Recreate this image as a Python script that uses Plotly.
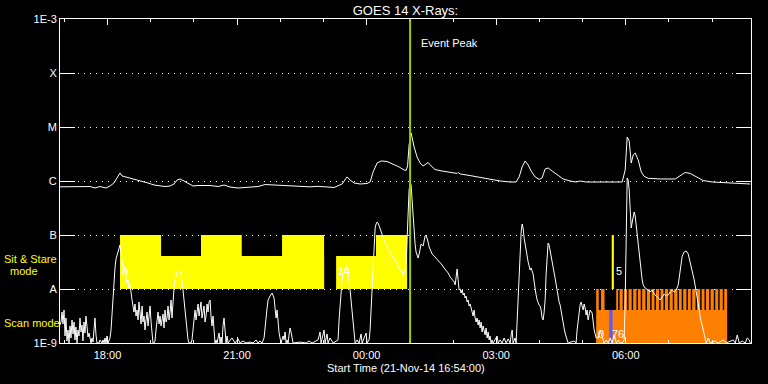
import numpy as np
import pandas as pd
import plotly.graph_objects as go

START = pd.Timestamp("2014-11-21 16:54:00")
END = pd.Timestamp("2014-11-22 08:54:00")

# ---- GOES 14 long channel (1-8 A), minutes after start / flux W m^-2 ----
long_min = [
    0.0, 20.8, 41.7, 48.6, 55.6, 63.9, 69.5, 75.0, 80.6, 83.4,
    86.2, 91.7, 100.1, 111.2, 122.3, 130.6, 139.0, 145.9, 152.9, 158.4,
    162.6, 166.8, 172.3, 177.9, 184.8, 191.8, 208.5, 219.6, 227.9, 236.2,
    247.4, 257.1, 264.0, 275.2, 284.9, 294.6, 305.7, 319.6, 333.5, 347.4,
    358.5, 369.7, 380.8, 391.9, 398.8, 403.0, 408.6, 416.9, 426.6, 430.8,
    435.0, 440.5, 446.1, 454.4, 462.8, 471.1, 478.1, 480.8, 482.9, 485.0,
    487.8, 489.2, 492.0, 496.1, 500.3, 504.5, 508.6, 511.4, 515.6, 521.1,
    530.9, 542.0, 551.7, 553.1, 555.9, 569.8, 583.7, 597.6, 611.5, 625.4,
    633.7, 637.9, 642.0, 646.2, 650.4, 654.5, 660.1, 665.7, 669.8, 674.0,
    678.2, 683.7, 690.7, 699.0, 708.7, 717.1, 722.6, 731.0, 781.0, 785.2,
    788.0, 790.8, 793.6, 796.3, 799.1, 803.3, 807.5, 811.6, 817.2, 833.9,
    854.7, 861.6, 868.6, 875.5, 883.9, 893.6, 906.1, 917.2, 931.1, 945.0,
    959.0,
]
long_flux = [
    7.8e-7, 7.74e-7, 7.9e-7, 7.42e-7, 7.9e-7, 7.42e-7, 8.08e-7, 9.18e-7, 1.19e-6, 1.41e-6,
    1.24e-6, 1.19e-6, 1.09e-6, 1.0e-6, 9.18e-7, 8.43e-7, 8.08e-7, 7.9e-7, 8.08e-7, 8.8e-7,
    1.04e-6, 1.09e-6, 1.0e-6, 9.18e-7, 8.08e-7, 8.25e-7, 8.25e-7, 7.9e-7, 8.43e-7, 7.74e-7,
    7.42e-7, 7.58e-7, 7.65e-7, 7.9e-7, 8.6e-7, 8.43e-7, 8.25e-7, 8.08e-7, 7.9e-7, 7.8e-7,
    7.97e-7, 7.74e-7, 7.58e-7, 8.8e-7, 1.19e-6, 1.04e-6, 9.18e-7, 8.8e-7, 9.0e-7, 9.58e-7,
    1.47e-6, 2.15e-6, 2.35e-6, 2.3e-6, 2.07e-6, 1.82e-6, 1.6e-6, 1.57e-6, 1.9e-6, 4.64e-6,
    7.74e-6, 6.26e-6, 4.26e-6, 2.78e-6, 2.15e-6, 1.9e-6, 2.07e-6, 2.2e-6, 1.9e-6, 1.63e-6,
    1.53e-6, 1.44e-6, 1.38e-6, 1.44e-6, 1.35e-6, 1.26e-6, 1.16e-6, 1.07e-6, 1.0e-6, 9.58e-7,
    9.58e-7, 1.19e-6, 1.82e-6, 2.35e-6, 1.98e-6, 1.53e-6, 1.19e-6, 1.07e-6, 1.14e-6, 1.67e-6,
    1.74e-6, 1.53e-6, 1.29e-6, 1.09e-6, 1.0e-6, 9.58e-7, 1.0e-6, 9.58e-7, 9.58e-7, 1.6e-6,
    6.53e-6, 5.5e-6, 2.15e-6, 3.03e-6, 3.3e-6, 2.45e-6, 1.47e-6, 1.22e-6, 1.12e-6, 1.09e-6,
    1.09e-6, 1.24e-6, 1.44e-6, 1.38e-6, 1.19e-6, 1.02e-6, 9.58e-7, 9.4e-7, 9.18e-7, 9.0e-7,
    8.8e-7,
]

# ---- GOES 14 short channel (0.5-4 A) ----
short_min = [
    0.0, 1.4, 2.8, 4.2, 5.6, 7.0, 8.3, 9.7, 11.1, 12.5,
    13.9, 15.3, 16.7, 18.1, 19.5, 20.8, 22.2, 23.6, 25.0, 26.4,
    27.8, 29.2, 30.6, 31.9, 33.3, 34.7, 36.1, 37.5, 38.9, 40.3,
    41.7, 43.1, 44.5, 45.9, 47.2, 48.6, 50.0, 51.4, 54.2, 55.6,
    58.4, 59.8, 61.2, 62.5, 63.9, 65.3, 66.7, 68.1, 69.5, 70.9,
    72.3, 73.7, 75.0, 76.4, 77.8, 79.2, 80.6, 82.0, 83.4, 84.8,
    86.2, 87.6, 88.9, 90.3, 91.7, 93.1, 94.5, 95.9, 97.3, 98.7,
    100.1, 101.4, 102.8, 104.2, 105.6, 107.0, 108.4, 109.8, 111.2, 112.6,
    114.0, 115.3, 116.7, 118.1, 119.5, 120.9, 122.3, 123.7, 125.1, 126.5,
    127.9, 129.2, 130.6, 132.0, 133.4, 134.8, 136.2, 137.6, 139.0, 140.4,
    141.8, 143.1, 144.5, 145.9, 147.3, 148.7, 150.1, 151.5, 152.9, 154.3,
    155.6, 157.0, 158.4, 159.8, 161.2, 162.6, 165.4, 166.8, 168.2, 169.5,
    170.9, 172.3, 173.7, 175.1, 176.5, 177.9, 179.3, 182.1, 183.4, 184.8,
    186.2, 187.6, 189.0, 190.4, 191.8, 193.2, 194.6, 195.9, 197.3, 198.7,
    200.1, 201.5, 202.9, 204.3, 205.7, 207.1, 208.5, 209.8, 211.2, 212.6,
    214.0, 215.4, 216.8, 218.2, 221.0, 222.4, 223.7, 225.1, 226.5, 227.9,
    229.3, 230.7, 232.1, 233.5, 239.0, 243.2, 247.4, 250.1, 254.3, 258.5,
    264.0, 268.2, 272.4, 275.2, 277.9, 280.7, 283.5, 284.9, 286.3, 287.7,
    289.1, 291.8, 294.6, 297.4, 298.8, 300.2, 301.6, 303.0, 304.4, 305.7,
    307.1, 309.9, 311.3, 312.7, 314.1, 315.5, 316.9, 318.2, 319.6, 321.0,
    322.4, 323.8, 333.5, 341.9, 346.0, 350.2, 358.5, 361.3, 362.7, 365.5,
    366.9, 368.3, 371.0, 372.4, 375.2, 379.4, 386.3, 387.7, 389.1, 390.5,
    391.9, 393.3, 394.7, 396.1, 397.5, 398.8, 400.2, 401.6, 403.0, 404.4,
    405.8, 407.2, 408.6, 410.0, 412.7, 415.5, 418.3, 419.7, 422.5, 425.3,
    426.6, 429.4, 430.8, 432.2, 433.6, 435.0, 436.4, 437.8, 439.2, 440.5,
    441.9, 443.3, 444.7, 447.5, 450.3, 453.1, 455.8, 458.6, 461.4, 464.2,
    467.0, 469.7, 472.5, 475.3, 476.7, 478.1, 479.5, 480.9, 482.3, 483.6,
    485.0, 486.4, 487.8, 489.2, 490.6, 492.0, 493.4, 494.7, 496.1, 497.5,
    498.9, 500.3, 501.7, 504.5, 505.9, 507.2, 508.6, 510.0, 511.4, 512.8,
    514.2, 517.0, 519.8, 522.5, 525.3, 528.1, 530.9, 533.7, 536.4, 539.2,
    542.0, 544.8, 547.6, 549.0, 550.4, 551.7, 553.1, 554.5, 555.9, 557.3,
    558.7, 560.1, 561.5, 562.8, 564.2, 565.6, 567.0, 568.4, 569.8, 571.2,
    572.6, 573.9, 575.3, 576.7, 578.1, 579.5, 580.9, 582.3, 583.7, 585.1,
    586.4, 587.8, 589.2, 590.6, 592.0, 593.4, 594.8, 596.2, 597.5, 598.9,
    600.3, 601.7, 607.3, 608.7, 611.5, 614.2, 617.0, 619.8, 622.6, 625.4,
    626.8, 628.2, 629.5, 632.3, 633.7, 635.1, 636.5, 637.9, 639.3, 640.7,
    642.0, 643.4, 644.8, 646.2, 647.6, 649.0, 650.4, 651.8, 653.1, 654.5,
    655.9, 657.3, 658.7, 660.1, 661.5, 662.9, 664.2, 665.6, 667.0, 668.4,
    669.8, 671.2, 672.6, 674.0, 675.3, 676.7, 678.1, 679.5, 680.9, 682.3,
    683.7, 685.1, 686.4, 687.8, 689.2, 690.6, 692.0, 693.4, 694.8, 696.2,
    697.5, 698.9, 700.3, 701.7, 703.1, 704.5, 705.9, 714.3, 717.0, 718.4,
    719.8, 721.2, 722.6, 724.0, 725.4, 726.8, 728.2, 729.6, 730.9, 732.3,
    733.7, 735.1, 736.5, 739.3, 742.1, 744.8, 747.6, 750.4, 753.2, 756.0,
    758.8, 761.6, 764.4, 767.1, 769.9, 772.7, 775.5, 778.3, 781.0, 783.8,
    785.2, 786.6, 788.0, 789.4, 790.8, 792.2, 793.6, 795.0, 796.3, 797.7,
    799.1, 800.5, 801.9, 803.3, 804.7, 806.1, 807.4, 808.8, 810.2, 813.0,
    817.2, 819.9, 822.7, 825.5, 828.3, 831.1, 833.8, 836.6, 839.4, 842.2,
    845.0, 847.7, 850.5, 853.3, 856.1, 858.9, 861.6, 864.4, 867.2, 870.0,
    872.8, 875.5, 878.3, 881.1, 883.9, 885.3, 888.1, 889.4, 892.2, 893.6,
    896.4, 897.8, 900.6, 903.4, 910.3, 914.5, 921.4, 925.6, 935.3, 938.1,
    940.9, 943.7, 947.8, 952.0, 954.8, 957.6, 959.0,
]
short_flux = [
    2.15e-9, 2.45e-9, 3.75e-9, 2.25e-9, 4.08e-9, 1.35e-9, 2.9e-9, 1.09e-9, 1.74e-9, 1.0e-9,
    2.07e-9, 1.24e-9, 2.67e-9, 1.47e-9, 2.45e-9, 1.14e-9, 1.98e-9, 1.0e-9, 1.74e-9, 1.35e-9,
    2.9e-9, 1.6e-9, 2.15e-9, 1.09e-9, 2.45e-9, 1.53e-9, 3.16e-9, 1.9e-9, 1.29e-9, 1.53e-9,
    1.14e-9, 1.0e-9, 1.24e-9, 1.04e-9, 1.74e-9, 2.9e-9, 1.41e-9, 1.0e-9, 1.0e-9, 1.14e-9,
    1.0e-9, 1.14e-9, 1.0e-9, 1.24e-9, 1.0e-9, 1.35e-9, 1.0e-9, 1.14e-9, 1.24e-9, 1.74e-9,
    3.75e-9, 6.26e-9, 9.58e-9, 2.45e-8, 3.59e-8, 4.26e-8, 4.84e-8, 5.28e-8, 6.53e-8, 4.84e-8,
    3.16e-8, 2.45e-8, 2.67e-8, 2.07e-8, 1.82e-8, 1.29e-8, 1.47e-8, 1.04e-8, 1.19e-8, 7.74e-9,
    6.26e-9, 4.84e-9, 3.75e-9, 5.28e-9, 3.16e-9, 4.08e-9, 2.67e-9, 5.75e-9, 2.9e-9, 2.25e-9,
    4.84e-9, 2.45e-9, 3.16e-9, 1.74e-9, 2.67e-9, 3.75e-9, 2.07e-9, 2.9e-9, 4.84e-9, 2.45e-9,
    1.6e-9, 1.0e-9, 1.0e-9, 1.09e-9, 1.74e-9, 2.9e-9, 3.75e-9, 2.25e-9, 3.16e-9, 2.07e-9,
    2.67e-9, 3.44e-9, 1.9e-9, 4.08e-9, 2.45e-9, 2.9e-9, 4.84e-9, 2.67e-9, 3.75e-9, 6.26e-9,
    2.9e-9, 7.42e-9, 1.04e-8, 1.47e-8, 1.9e-8, 2.07e-8, 2.15e-8, 2.15e-8, 1.9e-8, 1.47e-8,
    9.58e-9, 6.26e-9, 4.08e-9, 2.45e-9, 1.6e-9, 1.14e-9, 1.0e-9, 1.0e-9, 1.14e-9, 1.74e-9,
    3.16e-9, 4.08e-9, 2.67e-9, 4.45e-9, 5.28e-9, 3.16e-9, 4.08e-9, 5.75e-9, 2.9e-9, 3.75e-9,
    4.84e-9, 2.45e-9, 3.16e-9, 5.28e-9, 3.75e-9, 5.75e-9, 6.26e-9, 3.16e-9, 2.07e-9, 3.16e-9,
    1.47e-9, 1.0e-9, 1.14e-9, 1.0e-9, 1.53e-9, 1.0e-9, 1.29e-9, 1.0e-9, 2.07e-9, 2.9e-9,
    1.74e-9, 1.0e-9, 1.35e-9, 1.0e-9, 1.24e-9, 1.0e-9, 1.19e-9, 1.0e-9, 1.09e-9, 1.0e-9,
    1.04e-9, 1.0e-9, 1.14e-9, 1.0e-9, 1.09e-9, 1.0e-9, 1.24e-9, 1.74e-9, 2.9e-9, 4.45e-9,
    6.26e-9, 7.42e-9, 8.43e-9, 6.81e-9, 4.08e-9, 2.9e-9, 4.08e-9, 2.15e-9, 1.53e-9, 1.24e-9,
    1.0e-9, 1.35e-9, 1.14e-9, 1.6e-9, 1.0e-9, 1.14e-9, 1.0e-9, 1.41e-9, 1.9e-9, 1.6e-9,
    1.14e-9, 1.0e-9, 1.04e-9, 1.0e-9, 1.09e-9, 1.0e-9, 1.14e-9, 1.6e-9, 1.0e-9, 1.35e-9,
    1.74e-9, 1.0e-9, 1.47e-9, 1.0e-9, 1.24e-9, 1.0e-9, 1.14e-9, 2.67e-9, 5.06e-9, 9.58e-9,
    1.47e-8, 1.82e-8, 2.25e-8, 2.45e-8, 2.78e-8, 2.67e-8, 1.82e-8, 1.47e-8, 9.58e-9, 6.26e-9,
    3.3e-9, 2.15e-9, 1.41e-9, 1.0e-9, 1.14e-9, 1.0e-9, 1.47e-9, 1.0e-9, 1.24e-9, 1.53e-9,
    1.0e-9, 1.14e-9, 1.74e-9, 4.08e-9, 1.19e-8, 3.44e-8, 8.08e-8, 1.35e-7, 1.6e-7, 1.74e-7,
    1.67e-7, 1.47e-7, 1.24e-7, 9.58e-8, 8.08e-8, 6.53e-8, 5.75e-8, 4.84e-8, 4.08e-8, 3.75e-8,
    3.16e-8, 2.67e-8, 2.25e-8, 2.07e-8, 1.82e-8, 1.98e-8, 2.25e-8, 3.16e-8, 8.08e-8, 2.9e-7,
    6.81e-7, 9.18e-7, 8.43e-7, 4.45e-7, 2.07e-7, 1.14e-7, 6.53e-8, 4.84e-8, 4.26e-8, 3.75e-8,
    4.45e-8, 5.75e-8, 6.81e-8, 6.26e-8, 8.08e-8, 9.58e-8, 1.0e-7, 8.8e-8, 7.42e-8, 6.0e-8,
    5.28e-8, 4.45e-8, 4.08e-8, 3.75e-8, 3.44e-8, 3.16e-8, 2.78e-8, 2.45e-8, 2.25e-8, 1.98e-8,
    1.67e-8, 1.47e-8, 1.35e-8, 1.19e-8, 1.82e-8, 2.35e-8, 1.47e-8, 9.58e-9, 1.0e-8, 8.43e-9,
    9.58e-9, 7.74e-9, 8.43e-9, 6.81e-9, 7.42e-9, 5.75e-9, 6.26e-9, 4.84e-9, 5.28e-9, 4.08e-9,
    3.75e-9, 3.16e-9, 4.08e-9, 2.9e-9, 2.45e-9, 2.9e-9, 2.15e-9, 2.67e-9, 1.9e-9, 2.45e-9,
    1.6e-9, 2.07e-9, 1.74e-9, 1.41e-9, 1.9e-9, 1.24e-9, 1.6e-9, 1.14e-9, 1.35e-9, 1.0e-9,
    1.14e-9, 1.0e-9, 1.35e-9, 1.0e-9, 1.14e-9, 1.0e-9, 1.24e-9, 1.0e-9, 1.19e-9, 1.0e-9,
    1.41e-9, 1.74e-9, 1.0e-9, 1.24e-9, 1.0e-9, 2.67e-9, 7.74e-9, 1.82e-8, 5.28e-8, 1.14e-7,
    1.6e-7, 1.35e-7, 8.8e-8, 6.53e-8, 4.84e-8, 3.75e-8, 3.16e-8, 2.67e-8, 2.25e-8, 2.45e-8,
    2.07e-8, 1.9e-8, 1.35e-8, 9.58e-9, 7.74e-9, 6.26e-9, 5.5e-9, 5.06e-9, 4.84e-9, 4.08e-9,
    2.9e-9, 2.67e-9, 3.75e-9, 6.26e-9, 1.82e-8, 5.28e-8, 7.11e-8, 6.53e-8, 5.28e-8, 4.26e-8,
    3.44e-8, 2.78e-8, 2.07e-8, 1.6e-8, 1.24e-8, 9.58e-9, 6.81e-9, 5.75e-9, 5.06e-9, 3.75e-9,
    2.9e-9, 2.45e-9, 1.9e-9, 1.53e-9, 1.35e-9, 1.14e-9, 1.0e-9, 1.09e-9, 1.0e-9, 1.74e-9,
    2.45e-9, 4.08e-9, 5.06e-9, 5.75e-9, 4.84e-9, 4.08e-9, 5.28e-9, 4.45e-9, 3.3e-9, 4.08e-9,
    2.67e-9, 3.16e-9, 4.08e-9, 3.59e-9, 1.74e-9, 1.24e-9, 1.24e-9, 1.74e-9, 1.35e-9, 1.0e-9,
    1.14e-9, 1.0e-9, 1.24e-9, 1.0e-9, 1.41e-9, 1.0e-9, 1.14e-9, 1.0e-9, 1.0e-9, 1.14e-9,
    6.26e-9, 1.24e-7, 1.14e-6, 1.04e-6, 6.81e-7, 2.9e-7, 1.35e-7, 1.74e-7, 2.35e-7, 2.67e-7,
    2.25e-7, 1.53e-7, 1.0e-7, 6.53e-8, 4.26e-8, 2.45e-8, 1.82e-8, 1.47e-8, 1.19e-8, 1.04e-8,
    9.58e-9, 8.8e-9, 9.58e-9, 8.08e-9, 7.42e-9, 6.81e-9, 6.26e-9, 7.11e-9, 8.08e-9, 7.42e-9,
    7.74e-9, 8.8e-9, 9.58e-9, 8.8e-9, 9.58e-9, 1.19e-8, 2.45e-8, 4.08e-8, 4.84e-8, 5.06e-8,
    4.45e-8, 3.16e-8, 2.25e-8, 1.47e-8, 8.8e-9, 6.26e-9, 4.08e-9, 3.03e-9, 2.07e-9, 1.53e-9,
    1.14e-9, 1.0e-9, 1.24e-9, 1.0e-9, 1.09e-9, 1.0e-9, 1.14e-9, 1.0e-9, 1.14e-9, 1.0e-9,
    1.41e-9, 1.0e-9, 1.09e-9, 1.0e-9, 1.24e-9, 1.14e-9, 1.0e-9,
]

# ---- observing modes (minutes after start) ----
sit_stare_full = [(83.4, 140.4), (195.9, 252.5), (308.5, 366.9), (439.0, 482.3)]
sit_stare_part = [(83.4, 366.9), (383.6, 439.0)]
sit_stare_short = [(766.5, 769.5)]
scan_base = [(744.9, 926.9)]
scan_teeth = [(744.9, 748.5), (751.7, 756.5), (772.7, 775.4), (777.4, 781.8), (783.8, 787.9),
              (789.9, 794.3), (796.3, 800.9), (802.9, 806.8), (808.8, 813.4), (815.4, 819.9),
              (821.9, 825.9), (827.9, 832.4), (834.4, 838.4), (840.4, 844.9), (846.9, 851.3),
              (853.3, 857.9), (859.9, 863.8), (865.8, 870.3), (872.3, 876.3), (878.3, 882.9),
              (884.9, 889.4), (891.4, 895.4), (897.4, 901.9), (903.9, 908.3), (910.3, 914.4),
              (916.4, 920.8), (922.8, 926.9)]
scan_blue = [(763.0, 767.7)]
LEVEL_A, LEVEL_B = 1e-8, 1e-7
SIT_PART_TOP = 4.1e-8
SCAN_BASE_TOP = 4.1e-9
FLOOR = 1e-9
event_peak_min = 486.4

event_labels = [("0", 90.3, 2.1e-8), ("14", 394.7, 2.15e-8), ("5", 776.0, 2.15e-8),
                ("0", 751.8, 1.47e-9), ("7", 770.6, 1.47e-9), ("6", 779.0, 1.47e-9)]

y_tickvals = [1e-9, 1e-8, 1e-7, 1e-6, 1e-5, 1e-4, 1e-3]
y_ticktext = ["1E-9", "A", "B", "C", "M", "X", "1E-3"]


def tm(m):
    return START + pd.Timedelta(minutes=float(m))


def rects(intervals, lo, hi):
    xs, ys = [], []
    for a, b in intervals:
        xs += [tm(a), tm(a), tm(b), tm(b), tm(a), None]
        ys += [lo, hi, hi, lo, lo, None]
    return xs, ys


def poly(intervals, lo, hi, color):
    xs, ys = rects(intervals, lo, hi)
    return go.Scatter(x=xs, y=ys, mode="lines", fill="toself", fillcolor=color,
                      line=dict(width=0, color=color), hoverinfo="skip")


fig = go.Figure()
YEL = "#ffff00"
ORG = "#ff8000"
fig.add_trace(poly(sit_stare_part, LEVEL_A, SIT_PART_TOP, YEL))
fig.add_trace(poly(sit_stare_full, LEVEL_A, LEVEL_B, YEL))
fig.add_trace(poly(sit_stare_short, LEVEL_A, LEVEL_B, YEL))
fig.add_trace(poly(scan_base, FLOOR, SCAN_BASE_TOP, ORG))
fig.add_trace(poly(scan_teeth, SCAN_BASE_TOP, LEVEL_A, ORG))
fig.add_trace(poly(scan_blue, FLOOR, SCAN_BASE_TOP, "#5a5aff"))

fig.add_trace(go.Scatter(x=START + pd.to_timedelta(long_min, unit="min"), y=long_flux,
                         mode="lines", line=dict(color="white", width=1)))
fig.add_trace(go.Scatter(x=START + pd.to_timedelta(short_min, unit="min"), y=short_flux,
                         mode="lines", line=dict(color="white", width=1)))

fig.add_shape(type="line", xref="x", yref="paper", x0=tm(event_peak_min), x1=tm(event_peak_min),
              y0=0, y1=1, line=dict(color="#99cc00", width=2))

annotations = [
    dict(text="Event Peak", xref="x", yref="paper", x=tm(event_peak_min), y=(343 - 43) / 324,
         xanchor="left", yanchor="middle", xshift=9, showarrow=False,
         font=dict(color="white", size=11)),
    dict(text="Start Time (21-Nov-14 16:54:00)", xref="paper", yref="paper", x=0.5,
         y=-25 / 324, xanchor="center", yanchor="middle", showarrow=False,
         font=dict(color="white", size=11)),
    dict(text="Sit & Stare", xref="paper", yref="paper", x=-58 / 690.5, y=(343 - 259) / 324,
         xanchor="left", yanchor="middle", showarrow=False, font=dict(color=YEL, size=11)),
    dict(text="mode", xref="paper", yref="paper", x=(24 - 60) / 690.5, y=(343 - 271) / 324,
         xanchor="center", yanchor="middle", showarrow=False, font=dict(color=YEL, size=11)),
    dict(text="Scan mode", xref="paper", yref="paper", x=-58 / 690.5, y=(343 - 323) / 324,
         xanchor="left", yanchor="middle", showarrow=False, font=dict(color=YEL, size=11)),
]
for txt, m, v in event_labels:
    annotations.append(dict(text=txt, xref="x", yref="y", x=tm(m), y=np.log10(v),
                            xanchor="center", yanchor="middle", showarrow=False,
                            font=dict(color="white", size=11)))

fig.update_layout(
    width=768, height=384,
    margin=dict(l=60, r=17, t=19, b=41),
    paper_bgcolor="black", plot_bgcolor="black",
    showlegend=False,
    font=dict(family="Liberation Sans", color="white", size=11),
    title=dict(text="GOES 14 X-Rays:", x=0.5, xref="paper", xanchor="center",
               y=1 - 10 / 384, yref="container", yanchor="middle",
               font=dict(color="white", size=13, family="Liberation Sans")),
    annotations=annotations,
)
fig.update_xaxes(
    type="date", range=[START, END],
    tick0="2014-11-21 18:00:00", dtick=3 * 3600 * 1000, tickformat="%H:%M",
    ticks="inside", ticklen=6, tickwidth=1, tickcolor="white",
    minor=dict(dtick=3600 * 1000, tick0="2014-11-21 17:00:00", ticks="inside",
               ticklen=3, tickwidth=1, tickcolor="white", showgrid=False),
    showline=True, linecolor="white", linewidth=1, mirror="ticks",
    showgrid=False, zeroline=False, ticklabelstandoff=2,
    tickfont=dict(color="white", size=11),
)
fig.update_yaxes(
    type="log", range=[-9, -3],
    tickvals=y_tickvals, ticktext=y_ticktext,
    ticks="inside", ticklen=15, tickwidth=1, tickcolor="white",
    showline=True, linecolor="white", linewidth=1, mirror="ticks",
    showgrid=True, gridcolor="white", gridwidth=1, griddash="1px,5px",
    zeroline=False,
    tickfont=dict(color="white", size=11),
)

fig.write_html("out.html")
